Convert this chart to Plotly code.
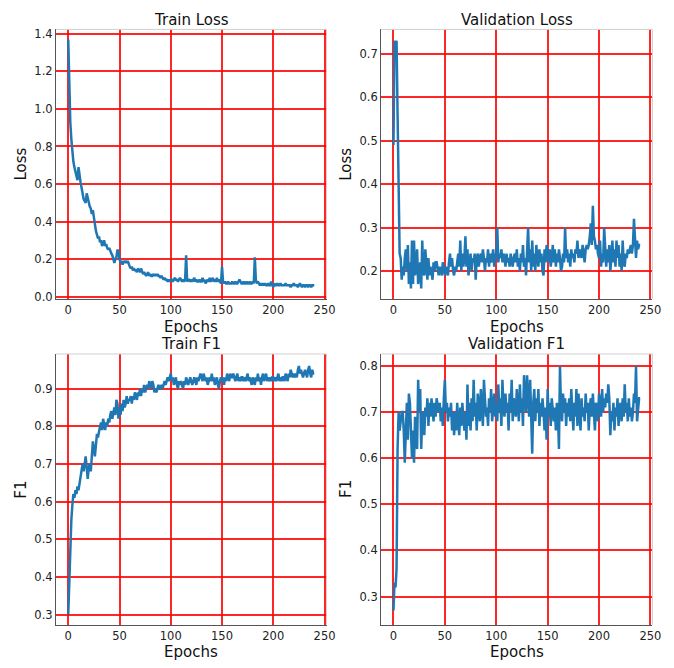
import plotly.graph_objects as go
from plotly.subplots import make_subplots

epochs = list(range(241))

train_loss = [
    1.37, 1.08, 0.93, 0.84, 0.77, 0.72, 0.69, 0.66, 0.63, 0.62,
    0.69, 0.64, 0.61, 0.58, 0.54, 0.52, 0.51, 0.50, 0.55, 0.52,
    0.50, 0.48, 0.47, 0.44, 0.46, 0.42, 0.39, 0.35, 0.33, 0.31,
    0.32, 0.29, 0.30, 0.27, 0.28, 0.30, 0.27, 0.28, 0.26, 0.25,
    0.26, 0.24, 0.23, 0.22, 0.19, 0.18, 0.20, 0.21, 0.25, 0.24,
    0.20, 0.18, 0.19, 0.17, 0.19, 0.18, 0.19, 0.18, 0.19, 0.17,
    0.16, 0.15, 0.16, 0.14, 0.15, 0.14, 0.14, 0.13, 0.15, 0.14,
    0.13, 0.15, 0.13, 0.12, 0.13, 0.12, 0.11, 0.12, 0.13, 0.11,
    0.12, 0.11, 0.11, 0.12, 0.11, 0.12, 0.11, 0.12, 0.11, 0.11,
    0.10, 0.11, 0.10, 0.09, 0.10, 0.09, 0.09, 0.08, 0.09, 0.08,
    0.09, 0.09, 0.08, 0.09, 0.10, 0.09, 0.09, 0.08, 0.09, 0.10,
    0.09, 0.08, 0.09, 0.08, 0.09, 0.22, 0.08, 0.09, 0.09, 0.08,
    0.09, 0.08, 0.09, 0.10, 0.08, 0.09, 0.08, 0.08, 0.09, 0.08,
    0.08, 0.10, 0.08, 0.09, 0.07, 0.08, 0.09, 0.08, 0.10, 0.08,
    0.09, 0.10, 0.08, 0.09, 0.08, 0.10, 0.08, 0.09, 0.08, 0.07,
    0.16, 0.08, 0.07, 0.08, 0.07, 0.07, 0.08, 0.07, 0.07, 0.07,
    0.08, 0.07, 0.07, 0.08, 0.07, 0.07, 0.08, 0.09, 0.08, 0.07,
    0.07, 0.08, 0.07, 0.07, 0.08, 0.07, 0.07, 0.08, 0.07, 0.07,
    0.08, 0.07, 0.21, 0.09, 0.07, 0.08, 0.07, 0.06, 0.07, 0.06,
    0.07, 0.06, 0.07, 0.06, 0.06, 0.07, 0.06, 0.06, 0.08, 0.06,
    0.05, 0.07, 0.06, 0.06, 0.07, 0.06, 0.06, 0.07, 0.06, 0.06,
    0.06, 0.06, 0.07, 0.06, 0.06, 0.06, 0.06, 0.05, 0.06, 0.06,
    0.07, 0.06, 0.06, 0.06, 0.05, 0.06, 0.07, 0.06, 0.05, 0.06,
    0.06, 0.05, 0.06, 0.06, 0.05, 0.06, 0.06, 0.05, 0.06, 0.06,
    0.06,
]

val_loss = [
    0.49, 0.73, 0.72, 0.73, 0.56, 0.40, 0.24, 0.23, 0.18, 0.21,
    0.19, 0.23, 0.25, 0.20, 0.26, 0.17, 0.22, 0.16, 0.27, 0.17,
    0.27, 0.19, 0.21, 0.25, 0.17, 0.19, 0.22, 0.16, 0.27, 0.20,
    0.19, 0.25, 0.21, 0.18, 0.23, 0.19, 0.21, 0.20, 0.18, 0.22,
    0.20, 0.22, 0.22, 0.20, 0.19, 0.21, 0.20, 0.19, 0.22, 0.21,
    0.19, 0.21, 0.20, 0.19, 0.22, 0.24, 0.21, 0.23, 0.20, 0.19,
    0.21, 0.20, 0.22, 0.24, 0.21, 0.27, 0.20, 0.24, 0.21, 0.23,
    0.28, 0.21, 0.25, 0.19, 0.22, 0.24, 0.20, 0.23, 0.22, 0.24,
    0.18, 0.23, 0.24, 0.21, 0.23, 0.24, 0.22, 0.25, 0.23, 0.20,
    0.23, 0.22, 0.25, 0.21, 0.24, 0.22, 0.23, 0.25, 0.21, 0.24,
    0.23, 0.30, 0.22, 0.24, 0.23, 0.25, 0.22, 0.24, 0.23, 0.21,
    0.24, 0.22, 0.23, 0.21, 0.24, 0.22, 0.21, 0.23, 0.24, 0.22,
    0.25, 0.21, 0.23, 0.20, 0.24, 0.22, 0.26, 0.21, 0.23, 0.19,
    0.24, 0.30, 0.22, 0.25, 0.20, 0.27, 0.21, 0.24, 0.20, 0.26,
    0.23, 0.21, 0.25, 0.22, 0.24, 0.20, 0.19, 0.25, 0.22, 0.26,
    0.24, 0.22, 0.25, 0.21, 0.23, 0.26, 0.22, 0.25, 0.21, 0.24,
    0.22, 0.25, 0.23, 0.20, 0.21, 0.24, 0.22, 0.30, 0.23, 0.25,
    0.22, 0.24, 0.21, 0.25, 0.23, 0.24, 0.22, 0.25, 0.24, 0.27,
    0.23, 0.25, 0.24, 0.23, 0.26, 0.24, 0.22, 0.25, 0.26, 0.25,
    0.26, 0.28, 0.31, 0.26, 0.35, 0.28, 0.27, 0.25, 0.26, 0.24,
    0.23, 0.27, 0.21, 0.24, 0.22, 0.30, 0.24, 0.21, 0.25, 0.22,
    0.26, 0.20, 0.23, 0.27, 0.22, 0.25, 0.21, 0.27, 0.23, 0.26,
    0.21, 0.24, 0.20, 0.27, 0.22, 0.21, 0.24, 0.23, 0.25, 0.24,
    0.25, 0.26, 0.24, 0.26, 0.32, 0.25, 0.23, 0.27, 0.25, 0.26,
    0.26,
]

train_f1 = [
    0.30, 0.39, 0.49, 0.55, 0.59, 0.62, 0.61, 0.63, 0.62, 0.64,
    0.63, 0.65, 0.66, 0.68, 0.70, 0.68, 0.71, 0.72, 0.69, 0.66,
    0.69, 0.70, 0.68, 0.73, 0.76, 0.74, 0.72, 0.75, 0.78, 0.77,
    0.79, 0.80, 0.81, 0.79, 0.82, 0.80, 0.79, 0.81, 0.80, 0.82,
    0.81, 0.83, 0.84, 0.82, 0.84, 0.85, 0.83, 0.87, 0.86, 0.82,
    0.85, 0.83, 0.86, 0.84, 0.87, 0.85, 0.86, 0.88, 0.86, 0.87,
    0.87, 0.88, 0.86, 0.88, 0.87, 0.89, 0.88, 0.87, 0.89, 0.88,
    0.90, 0.88, 0.90, 0.89, 0.91, 0.89, 0.90, 0.91, 0.90, 0.92,
    0.91, 0.90, 0.92, 0.91, 0.89, 0.90, 0.89, 0.90, 0.91, 0.90,
    0.90, 0.91, 0.90, 0.91, 0.92, 0.91, 0.92, 0.93, 0.92, 0.93,
    0.94, 0.92, 0.93, 0.91, 0.92, 0.93, 0.91, 0.90, 0.92, 0.91,
    0.92, 0.91, 0.90, 0.92, 0.91, 0.93, 0.92, 0.91, 0.92, 0.93,
    0.92, 0.91, 0.92, 0.93, 0.92, 0.91, 0.93, 0.92, 0.93, 0.94,
    0.93, 0.92, 0.94, 0.93, 0.92, 0.93, 0.91, 0.92, 0.93, 0.92,
    0.94, 0.92, 0.93, 0.91, 0.92, 0.93, 0.91, 0.90, 0.92, 0.93,
    0.92, 0.93, 0.91, 0.93, 0.92, 0.94, 0.93, 0.92, 0.94, 0.93,
    0.93, 0.94, 0.93, 0.92, 0.93, 0.94, 0.92, 0.93, 0.92, 0.93,
    0.93, 0.92, 0.93, 0.92, 0.93, 0.94, 0.92, 0.93, 0.92, 0.91,
    0.93, 0.92, 0.91, 0.93, 0.92, 0.94, 0.92, 0.93, 0.91, 0.93,
    0.94, 0.92, 0.93, 0.94, 0.92, 0.93, 0.92, 0.93, 0.92, 0.93,
    0.93, 0.92, 0.93, 0.92, 0.93, 0.94, 0.92, 0.93, 0.92, 0.93,
    0.93, 0.92, 0.94, 0.93, 0.92, 0.94, 0.93, 0.95, 0.94, 0.93,
    0.94, 0.93, 0.94, 0.93, 0.95, 0.96, 0.94, 0.95, 0.94, 0.93,
    0.94, 0.95, 0.94, 0.93, 0.95, 0.96, 0.94, 0.93, 0.95, 0.94,
    0.94,
]

val_f1 = [
    0.27, 0.33, 0.32, 0.36, 0.62, 0.70, 0.66, 0.68, 0.70, 0.70,
    0.66, 0.59, 0.67, 0.72, 0.64, 0.74, 0.72, 0.65, 0.60, 0.66,
    0.59, 0.69, 0.63, 0.62, 0.77, 0.70, 0.75, 0.62, 0.69, 0.70,
    0.65, 0.71, 0.69, 0.73, 0.67, 0.72, 0.69, 0.73, 0.70, 0.68,
    0.72, 0.69, 0.73, 0.71, 0.70, 0.72, 0.68, 0.71, 0.67, 0.73,
    0.77, 0.70, 0.72, 0.68, 0.71, 0.69, 0.72, 0.66, 0.70, 0.65,
    0.70, 0.66, 0.72, 0.68, 0.65, 0.71, 0.67, 0.72, 0.69, 0.66,
    0.70, 0.64, 0.76, 0.67, 0.72, 0.66, 0.73, 0.68, 0.77, 0.69,
    0.72, 0.66, 0.74, 0.70, 0.68, 0.75, 0.70, 0.67, 0.77, 0.72,
    0.69, 0.71, 0.67, 0.73, 0.70, 0.75, 0.68, 0.71, 0.74, 0.69,
    0.72, 0.68, 0.76, 0.70, 0.73, 0.67, 0.77, 0.71, 0.69, 0.74,
    0.70, 0.72, 0.66, 0.74, 0.70, 0.77, 0.68, 0.73, 0.71, 0.69,
    0.75, 0.71, 0.68, 0.76, 0.70, 0.73, 0.67, 0.78, 0.72, 0.70,
    0.78, 0.72, 0.69, 0.77, 0.70, 0.61, 0.72, 0.75, 0.68, 0.73,
    0.70, 0.75, 0.67, 0.72, 0.69, 0.73, 0.70, 0.66, 0.71, 0.64,
    0.75, 0.69, 0.72, 0.67, 0.73, 0.70, 0.68, 0.71, 0.66, 0.72,
    0.70, 0.62, 0.80, 0.71, 0.68, 0.74, 0.70, 0.73, 0.67, 0.72,
    0.69, 0.73, 0.68, 0.75, 0.70, 0.66, 0.72, 0.69, 0.75, 0.67,
    0.74, 0.70, 0.66, 0.73, 0.69, 0.71, 0.68, 0.74, 0.70, 0.72,
    0.66, 0.71, 0.73, 0.69, 0.74, 0.70, 0.66, 0.72, 0.71, 0.68,
    0.74, 0.72, 0.69, 0.75, 0.70, 0.73, 0.71, 0.74, 0.72, 0.76,
    0.73, 0.65, 0.70, 0.68, 0.72, 0.66, 0.71, 0.69, 0.73, 0.67,
    0.71, 0.72, 0.68, 0.73, 0.69, 0.76, 0.70, 0.72, 0.68, 0.73,
    0.69, 0.71, 0.68, 0.70, 0.74, 0.72, 0.80, 0.68, 0.70, 0.73,
    0.73,
]

x_ticks = [0, 50, 100, 150, 200, 250]

panels = [
    ("Train Loss", "Loss", train_loss, [-0.012, 1.424], 0.2),
    ("Validation Loss", "Loss", val_loss, [0.136, 0.756], 0.1),
    ("Train F1", "F1", train_f1, [0.273, 0.992], 0.1),
    ("Validation F1", "F1", val_f1, [0.239, 0.826], 0.1),
]

W, H = 674, 668
# caixas dos eixos em pixels (esquerda, direita / topo, base)
col_px = [(56.7, 331.0), (386.3, 661.3)]
row_px = [(27.7, 300.0), (355.7, 629.3)]

FONT = "DejaVu Sans"
GRID = "rgba(255,0,0,0.85)"


def px_x(p):
    return p / W


def px_y(p):
    return 1 - p / H


fig = make_subplots(rows=2, cols=2)
annotations = []
shapes = []

for i, (title, ylab, ys, yr, dt) in enumerate(panels):
    r, c = divmod(i, 2)
    fig.add_trace(
        go.Scatter(x=epochs, y=ys, mode="lines",
                   line=dict(color="#1f77b4", width=2.5), showlegend=False),
        row=r + 1, col=c + 1,
    )
    x0, x1 = px_x(col_px[c][0]), px_x(col_px[c][1])
    y0, y1 = px_y(row_px[r][1]), px_y(row_px[r][0])
    n = "" if i == 0 else str(i + 1)
    fig.layout["xaxis" + n].update(
        domain=[x0, x1], range=[-12, 252], tickvals=x_ticks,
        showgrid=True, gridcolor=GRID, gridwidth=1.6, zeroline=False,
        showline=True, linecolor="#555", linewidth=1, ticks="",
        tickfont=dict(family=FONT, size=11.5, color="#222"),
    )
    fig.layout["yaxis" + n].update(
        domain=[y0, y1], range=yr, dtick=dt, tick0=0, tickformat=".1f",
        showgrid=True, gridcolor=GRID, gridwidth=1.6, zeroline=False,
        showline=True, linecolor="#555", linewidth=1, ticks="",
        tickfont=dict(family=FONT, size=11.5, color="#222"),
    )
    # bordas de cima e da direita, mais claras
    shapes.append(dict(type="line", xref="paper", yref="paper",
                       x0=x0, x1=x1, y0=y1, y1=y1,
                       line=dict(color="#d0d0d0", width=1)))
    shapes.append(dict(type="line", xref="paper", yref="paper",
                       x0=x1, x1=x1, y0=y0, y1=y1,
                       line=dict(color="#d0d0d0", width=1)))
    xc = (x0 + x1) / 2
    annotations.append(dict(text=title, x=xc, y=px_y(row_px[r][0] - 10),
                            xref="paper", yref="paper", showarrow=False,
                            xanchor="center", yanchor="middle",
                            font=dict(family=FONT, size=15, color="#111")))
    annotations.append(dict(text="Epochs", x=xc, y=px_y(row_px[r][1] + 28),
                            xref="paper", yref="paper", showarrow=False,
                            xanchor="center", yanchor="middle",
                            font=dict(family=FONT, size=15, color="#111")))
    annotations.append(dict(text=ylab, x=px_x(col_px[c][0] - 35),
                            y=(y0 + y1) / 2, textangle=-90,
                            xref="paper", yref="paper", showarrow=False,
                            xanchor="center", yanchor="middle",
                            font=dict(family=FONT, size=15, color="#111")))

fig.update_layout(
    width=W, height=H,
    margin=dict(l=0, r=0, t=0, b=0),
    paper_bgcolor="white", plot_bgcolor="white",
    annotations=annotations, shapes=shapes,
)

# tira a margem padrao do body para a figura ocupar a janela toda
fig.write_html(
    "out.html",
    config={"displayModeBar": False},
    post_script="document.body.style.margin='0';"
                "document.documentElement.style.overflow='hidden';",
)
